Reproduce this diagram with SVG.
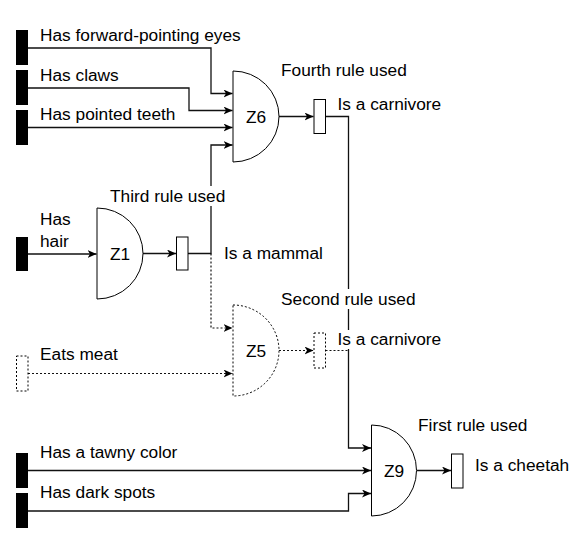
<svg xmlns="http://www.w3.org/2000/svg" width="584" height="538" viewBox="0 0 584 538">
<defs>
<marker id="arr" markerWidth="11" markerHeight="9" refX="9" refY="4" orient="auto" markerUnits="userSpaceOnUse">
<path d="M0,0 L9,4 L0,8 L2.5,4 z" fill="#000"/>
</marker>
<style>
text{font-family:"Liberation Sans",Arial,sans-serif;font-size:17.3px;fill:#000}
.c{text-anchor:middle}
.bar{fill:#000}
.gate{fill:#fff;stroke:#000;stroke-width:1}
.box{fill:#fff;stroke:#000;stroke-width:1}
.dot{stroke-dasharray:2,2}
.ln{fill:none;stroke:#111;stroke-width:1.3}
.lnd{fill:none;stroke:#111;stroke-width:1.2;stroke-dasharray:2,2}
.bg{fill:#fff}
</style>
</defs>
<rect width="584" height="538" fill="#fff"/>

<g id="connectors">
<path class="ln" d="M28,48 H211 V93.5 H232.5" marker-end="url(#arr)"/>
<path class="ln" d="M28,88 H189 V110.5 H232.5" marker-end="url(#arr)"/>
<path class="ln" d="M28,127.5 H232.5" marker-end="url(#arr)"/>
<path class="ln" d="M188,253.5 H211 V145 H232.5" marker-end="url(#arr)"/>
<path class="ln" d="M28,254 H96.5" marker-end="url(#arr)"/>
<path class="ln" d="M143,253.5 H176" marker-end="url(#arr)"/>
<path class="lnd" d="M211,253.5 V328 H232.5" marker-end="url(#arr)"/>
<path class="lnd" d="M28,373.5 H232.5" marker-end="url(#arr)"/>
<path class="lnd" d="M279,350.5 H313.5" marker-end="url(#arr)"/>
<path class="lnd" d="M325.5,350.5 H348.5"/>
<path class="ln" d="M279,116.5 H313.5" marker-end="url(#arr)"/>
<path class="ln" d="M325.5,116.5 H348.5 V448 H371" marker-end="url(#arr)"/>
<path class="ln" d="M28,470.5 H371" marker-end="url(#arr)"/>
<path class="ln" d="M28,511 H348.5 V493.5 H371" marker-end="url(#arr)"/>
<path class="ln" d="M417,470.5 H451" marker-end="url(#arr)"/>
</g>

<g id="label-third">
<rect class="bg" x="109" y="186" width="119" height="20"/>
<text x="110" y="202">Third rule used</text>
</g>
<g id="label-second">
<rect class="bg" x="280" y="289" width="139" height="20"/>
<text x="281" y="305">Second rule used</text>
</g>

<g id="in-eyes">
<rect class="bar" x="16" y="30" width="12" height="35"/>
<text x="40" y="41">Has forward-pointing eyes</text>
</g>
<g id="in-claws">
<rect class="bar" x="16" y="70" width="12" height="35"/>
<text x="40" y="81">Has claws</text>
</g>
<g id="in-teeth">
<rect class="bar" x="16" y="110" width="12" height="35"/>
<text x="40" y="120">Has pointed teeth</text>
</g>
<g id="in-hair">
<rect class="bar" x="16" y="237" width="12" height="34"/>
<text x="40" y="225">Has</text>
<text x="40" y="247">hair</text>
</g>
<g id="in-meat">
<rect class="box dot" x="16.5" y="356" width="11.5" height="35"/>
<text x="40" y="360">Eats meat</text>
</g>
<g id="in-tawny">
<rect class="bar" x="16" y="453" width="12" height="35"/>
<text x="40" y="458">Has a tawny color</text>
</g>
<g id="in-spots">
<rect class="bar" x="16" y="493" width="12" height="35"/>
<text x="40" y="498">Has dark spots</text>
</g>

<g id="Z6">
<path class="gate" d="M233,71 A46,45.5 0 0 1 233,162 Z"/>
<text class="c" x="256" y="123">Z6</text>
</g>
<g id="Z1">
<path class="gate" d="M97,208 A46,45.5 0 0 1 97,299 Z"/>
<text class="c" x="120" y="260">Z1</text>
</g>
<g id="Z5">
<path class="gate dot" d="M233,305 A46,45.5 0 0 1 233,396 Z"/>
<text class="c" x="256" y="357">Z5</text>
</g>
<g id="Z9">
<path class="gate" d="M371.5,425 A45,45.5 0 0 1 371.5,516 Z"/>
<text class="c" x="394" y="477">Z9</text>
</g>

<g id="out-z6">
<rect class="box" x="314" y="99.5" width="11.5" height="34"/>
<text x="281" y="76">Fourth rule used</text>
<text x="337.5" y="110">Is a carnivore</text>
</g>
<g id="out-z1">
<rect class="box" x="176.5" y="237" width="11.5" height="33"/>
<text x="224" y="259">Is a mammal</text>
</g>
<g id="out-z5">
<rect class="box dot" x="314" y="333" width="11.5" height="35"/>
<rect class="bg" x="337" y="330" width="22" height="19"/>
<text x="337.5" y="345">Is a carnivore</text>
</g>
<g id="out-z9">
<rect class="box" x="451.5" y="454" width="11.5" height="34"/>
<text x="418" y="431">First rule used</text>
<text x="475" y="471">Is a cheetah</text>
</g>
</svg>
